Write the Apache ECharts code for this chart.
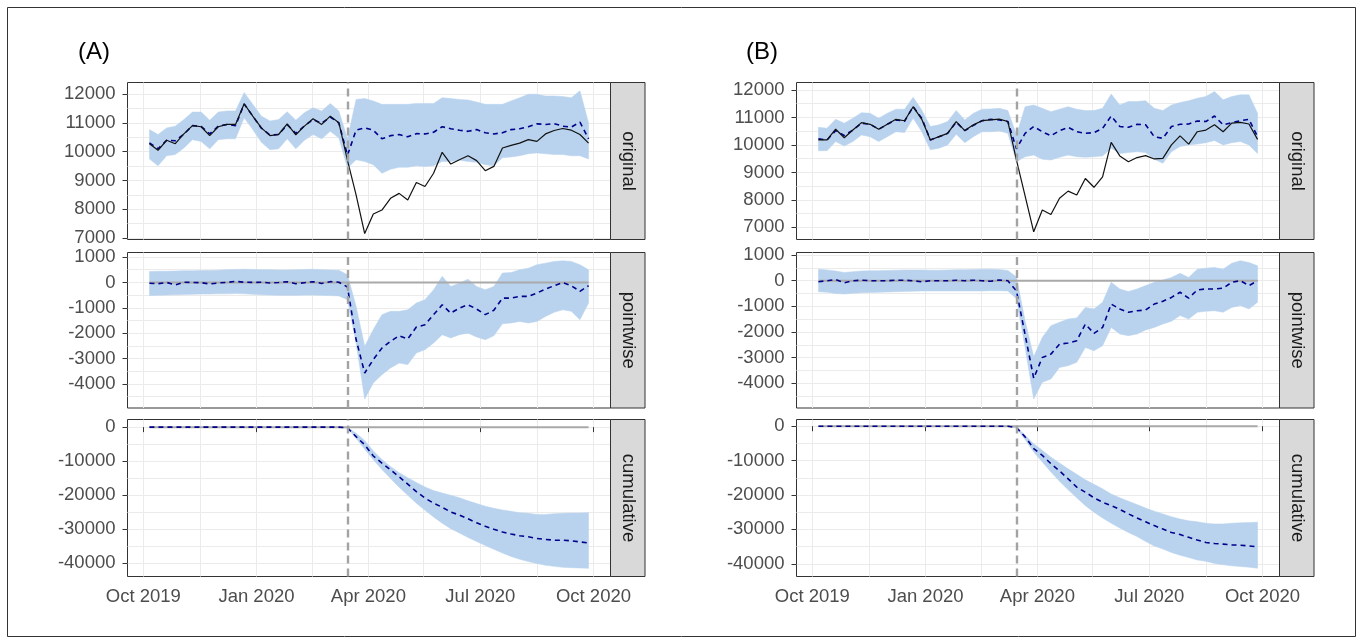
<!DOCTYPE html>
<html>
<head>
<meta charset="utf-8">
<title>Observed vs predicted weekly counts</title>
<script src="https://cdn.jsdelivr.net/npm/echarts@6/dist/echarts.min.js"></script>
<style>
html, body { margin: 0; padding: 0; background: #fff; }
#main { width: 1363px; height: 644px; }
</style>
</head>
<body>
<div id="main"></div>
<script>
// weekly dates
const weeks = [
  '2019-10-06', '2019-10-13', '2019-10-20', '2019-10-27', '2019-11-03', '2019-11-10', '2019-11-17', '2019-11-24',
  '2019-12-01', '2019-12-08', '2019-12-15', '2019-12-22', '2019-12-29', '2020-01-05', '2020-01-12', '2020-01-19',
  '2020-01-26', '2020-02-02', '2020-02-09', '2020-02-16', '2020-02-23', '2020-03-01', '2020-03-08', '2020-03-15',
  '2020-03-22', '2020-03-29', '2020-04-05', '2020-04-12', '2020-04-19', '2020-04-26', '2020-05-03', '2020-05-10',
  '2020-05-17', '2020-05-24', '2020-05-31', '2020-06-07', '2020-06-14', '2020-06-21', '2020-06-28', '2020-07-05',
  '2020-07-12', '2020-07-19', '2020-07-26', '2020-08-02', '2020-08-09', '2020-08-16', '2020-08-23', '2020-08-30',
  '2020-09-06', '2020-09-13', '2020-09-20', '2020-09-27'
]
const interventionDate = '2020-03-15'

const xMajor = ['2019-10-01', '2020-01-01', '2020-04-01', '2020-07-01', '2020-10-01']
const xMinor = ['2019-11-16', '2020-02-15', '2020-05-16', '2020-08-16']
const yMajorOriginal = [7000, 8000, 9000, 10000, 11000, 12000]
const yMinorOriginal = [7500, 8500, 9500, 10500, 11500]
const yMajorPointwise = [-4000, -3000, -2000, -1000, 0, 1000]
const yMinorPointwise = [-4500, -3500, -2500, -1500, -500, 500]
const yMajorCumulative = [-40000, -30000, -20000, -10000, 0]
const yMinorCumulative = [-35000, -25000, -15000, -5000]

// panel (A)
const actualA = [10280, 10050, 10400, 10280, 10620, 10910, 10870, 10560, 10870, 10950, 10950, 11670, 11240, 10830, 10560, 10600, 10970, 10590, 10890, 11150, 10950, 11240, 11010,
  9700, 8500, 7150, 7830, 7970, 8380, 8550, 8320, 8930, 8790, 9250, 9980, 9570, 9720, 9860, 9690, 9340, 9490, 10130, 10220, 10300, 10420, 10360, 10620, 10740, 10810, 10750, 10600, 10300]
const predA = [10310, 10100, 10400, 10380, 10610, 10910, 10880, 10620, 10890, 10950, 10910, 11660, 11240, 10820, 10580, 10600, 10940, 10640, 10900, 11120, 10990, 11210, 11000,
  9880, 10750, 10830, 10750, 10450, 10560, 10600, 10520, 10630, 10620, 10680, 10870, 10800, 10750, 10710, 10770, 10660, 10620, 10660, 10770, 10800, 10870, 10970, 10950, 10980, 10890, 10860, 11030, 10450]
const origHiA = [10770, 10600, 10830, 10890, 11120, 11380, 11380, 11100, 11380, 11420, 11420, 12060, 11650, 11240, 11070, 11120, 11390, 11100, 11360, 11530, 11420, 11680, 11420,
  10450, 11820, 11850, 11770, 11650, 11650, 11650, 11650, 11680, 11680, 11680, 11880, 11850, 11820, 11800, 11730, 11650, 11650, 11650, 11770, 11880, 12000, 12000, 11940, 11940, 11920, 11880, 12120, 11000]
const origLoA = [9750, 9510, 9860, 9900, 10130, 10420, 10360, 10100, 10420, 10450, 10450, 11180, 10770, 10330, 10070, 10100, 10450, 10100, 10400, 10600, 10450, 10710, 10480,
  9430, 9720, 9660, 9550, 9250, 9390, 9460, 9460, 9510, 9490, 9510, 9660, 9660, 9700, 9660, 9630, 9550, 9510, 9790, 9820, 9860, 9930, 9960, 9930, 9900, 9900, 9860, 9860, 9750]
const pointA = [-30, -50, 0, -100, 10, 0, -10, -60, -20, 0, 40, 10, 0, 10, -20, 0, 30, -50, -10, 30, -40, 30, 10,
  -180, -2250, -3570, -3040, -2590, -2320, -2100, -2230, -1760, -1670, -1270, -880, -1210, -1010, -880, -1050, -1270, -1100, -620, -620, -550, -550, -420, -260, -130, 0, -130, -350, -130]
const pointHiA = [430, 440, 440, 450, 460, 460, 470, 470, 480, 500, 510, 520, 510, 500, 500, 490, 490, 500, 510, 520, 500, 490, 480,
  300, -940, -2520, -1860, -1270, -1140, -1140, -1080, -810, -680, -290, 240, -160, -30, 130, -160, -290, -160, 370, 390, 500, 560, 700, 760, 830, 850, 830, 700, 500]
const pointLoA = [-520, -510, -500, -490, -480, -470, -460, -460, -450, -450, -440, -450, -470, -490, -500, -510, -510, -510, -500, -500, -510, -520, -530,
  -680, -2390, -4600, -3960, -3640, -3370, -3180, -3240, -2780, -2650, -2390, -2060, -2190, -2060, -2000, -2150, -2260, -2100, -1630, -1600, -1540, -1600, -1540, -1340, -1180, -1080, -1140, -1470, -810]
const cumA = [0, 0, 0, 0, 0, 0, 0, 0, 0, 0, 0, 0, 0, 0, 0, 0, 0, 0, 0, 0, 0, 0, 0,
  -200, -2800, -5200, -8500, -10600, -12600, -14600, -16800, -19000, -20900, -22400, -23600, -25000, -25900, -27000, -28200, -29200, -30100, -30900, -31500, -32000, -32300, -32800, -33100, -33300, -33300, -33500, -33800, -34100]
const cumHiA = [0, 0, 0, 0, 0, 0, 0, 0, 0, 0, 0, 0, 0, 0, 0, 0, 0, 0, 0, 0, 0, 0, 0,
  -100, -1800, -3900, -7000, -9500, -11600, -13400, -14900, -16300, -17600, -18700, -19400, -20100, -20800, -21700, -22500, -23300, -23900, -24400, -24800, -25200, -25400, -25700, -25700, -25500, -25400, -25300, -25300, -25200]
const cumLoA = [0, 0, 0, 0, 0, 0, 0, 0, 0, 0, 0, 0, 0, 0, 0, 0, 0, 0, 0, 0, 0, 0, 0,
  -300, -3300, -6500, -9600, -12500, -15100, -17700, -20100, -22400, -24500, -26500, -28300, -29900, -31200, -32500, -33700, -34900, -36000, -37100, -38100, -38900, -39600, -40200, -40700, -41000, -41300, -41400, -41500, -41600]

// panel (B)
const actualB = [10180, 10180, 10570, 10260, 10540, 10810, 10750, 10570, 10750, 10930, 10880, 11390, 10930, 10180, 10300, 10420, 10850, 10520, 10730, 10880, 10910, 10940, 10850,
  9450, 8150, 6840, 7630, 7470, 8060, 8320, 8180, 8780, 8460, 8840, 10090, 9600, 9390, 9540, 9610, 9490, 9510, 10000, 10330, 10030, 10480, 10540, 10730, 10480, 10790, 10820, 10760, 10200]
const predB = [10220, 10180, 10520, 10340, 10540, 10790, 10750, 10570, 10750, 10910, 10860, 11390, 10970, 10180, 10300, 10420, 10830, 10520, 10710, 10880, 10930, 10910, 10850,
  9860, 10420, 10670, 10480, 10330, 10520, 10640, 10480, 10420, 10450, 10600, 11050, 10670, 10640, 10750, 10730, 10300, 10240, 10670, 10750, 10760, 10870, 10850, 11050, 10730, 10810, 10880, 10930, 10300]
const origHiB = [10640, 10610, 10930, 10790, 10970, 11170, 11150, 10970, 11150, 11300, 11300, 11730, 11270, 10670, 10730, 10850, 11250, 10910, 11150, 11300, 11310, 11330, 11250,
  10360, 11390, 11450, 11330, 11210, 11300, 11390, 11300, 11250, 11250, 11330, 11850, 11450, 11580, 11580, 11610, 11330, 11250, 11450, 11540, 11610, 11700, 11760, 11940, 11640, 11760, 11820, 11820, 11150]
const origLoB = [9790, 9790, 10120, 9960, 10120, 10360, 10300, 10120, 10300, 10480, 10450, 10970, 10480, 9820, 9880, 10000, 10390, 10080, 10300, 10480, 10480, 10510, 10420,
  9390, 9570, 9630, 9480, 9450, 9550, 9630, 9570, 9550, 9570, 9600, 9880, 9690, 9720, 9750, 9720, 9480, 9330, 9750, 9940, 10000, 10030, 10080, 10160, 10000, 10080, 10120, 10000, 9690]
const pointB = [-40, 0, 50, -80, 0, 20, 0, 0, 0, 20, 20, 0, -40, 0, 0, 0, 20, 0, 20, 0, -20, 30, 0,
  -400, -2100, -3800, -2990, -2860, -2470, -2430, -2340, -1690, -2050, -1820, -910, -1100, -1230, -1170, -1140, -910, -800, -650, -450, -680, -360, -320, -320, -290, -60, 0, -190, 0]
const pointHiB = [450, 420, 380, 320, 350, 380, 390, 390, 400, 410, 420, 420, 420, 410, 410, 420, 430, 430, 440, 450, 450, 440, 400,
  150, -1560, -2960, -2210, -1750, -1620, -1490, -1450, -1040, -1100, -840, -60, -320, -420, -320, -190, -60, 30, 130, 290, 130, 450, 490, 520, 450, 680, 780, 710, 580]
const pointLoB = [-430, -450, -500, -520, -490, -470, -460, -450, -440, -430, -420, -410, -400, -400, -400, -400, -400, -400, -400, -400, -390, -390, -400,
  -700, -2600, -4610, -3960, -3830, -3380, -3310, -3180, -2600, -2730, -2530, -1820, -2080, -2140, -2080, -1920, -1820, -1690, -1580, -1360, -1490, -1230, -1190, -1170, -1230, -1040, -970, -1100, -840]
const cumB = [0, 0, 0, 0, 0, 0, 0, 0, 0, 0, 0, 0, 0, 0, 0, 0, 0, 0, 0, 0, 0, 0, 0,
  -400, -3100, -6500, -8500, -10900, -13000, -15300, -17700, -19200, -20800, -22100, -23100, -24200, -25500, -26700, -27800, -28900, -29900, -30900, -31500, -32300, -33100, -33800, -34100, -34300, -34500, -34600, -34800, -35100]
const cumHiB = [0, 0, 0, 0, 0, 0, 0, 0, 0, 0, 0, 0, 0, 0, 0, 0, 0, 0, 0, 0, 0, 0, 0,
  -200, -2600, -5100, -7000, -9000, -10700, -12400, -14000, -15600, -16900, -18200, -19700, -20800, -21800, -22800, -23800, -24700, -25500, -26300, -27000, -27500, -27800, -28200, -28400, -28400, -28200, -28100, -28000, -27900]
const cumLoB = [0, 0, 0, 0, 0, 0, 0, 0, 0, 0, 0, 0, 0, 0, 0, 0, 0, 0, 0, 0, 0, 0, 0,
  -600, -3900, -7500, -10400, -13300, -16000, -18500, -20800, -23100, -25000, -26700, -28200, -29600, -30900, -32100, -33500, -34800, -35700, -36700, -37500, -38200, -38900, -39300, -39900, -40300, -40600, -40800, -41000, -41300]

const months = ['Jan', 'Feb', 'Mar', 'Apr', 'May', 'Jun', 'Jul', 'Aug', 'Sep', 'Oct', 'Nov', 'Dec']
const font = "'Liberation Sans', Arial, sans-serif"
const ts = d => Date.parse(d)
const xMin = Date.UTC(2019, 8, 18, 4)
const xMax = Date.UTC(2020, 9, 14, 20)
const plotW = 483
const stripW = 34.5

const rows = [
  { top: 82.5, height: 157, major: yMajorOriginal, minor: yMinorOriginal },
  { top: 252.5, height: 155.5, major: yMajorPointwise, minor: yMinorPointwise },
  { top: 419.5, height: 157, major: yMajorCumulative, minor: yMinorCumulative }
]

const panels = [
  {
    left: 127.5, tag: '(A)', tagX: 78,
    facets: [
      { name: 'original', min: 6945, max: 12410, lo: origLoA, hi: origHiA, est: predA, obs: actualA },
      { name: 'pointwise', min: -4950, max: 1180, lo: pointLoA, hi: pointHiA, est: pointA },
      { name: 'cumulative', min: -44000, max: 2250, lo: cumLoA, hi: cumHiA, est: cumA }
    ]
  },
  {
    left: 796.5, tag: '(B)', tagX: 746,
    facets: [
      { name: 'original', min: 6560, max: 12270, lo: origLoB, hi: origHiB, est: predB, obs: actualB },
      { name: 'pointwise', min: -4960, max: 1100, lo: pointLoB, hi: pointHiB, est: pointB },
      { name: 'cumulative', min: -43700, max: 1950, lo: cumLoB, hi: cumHiB, est: cumB }
    ]
  }
]

const pairs = vals => vals.map((v, i) => [ts(weeks[i]), v])
const gridLine = { show: true, lineStyle: { color: '#EBEBEB', width: 1 } }
const labelStyle = { color: '#4D4D4D', fontSize: 18.5, fontFamily: font }

// band polygon: upper edge left to right, then lower edge back
function renderBand (params, api) {
  if (params.dataIndex !== 0) return null
  const n = params.dataInsideLength
  const pts = []
  for (let i = 0; i < n; i++) pts.push(api.coord([api.value(0, i), api.value(2, i)]))
  for (let i = n - 1; i >= 0; i--) pts.push(api.coord([api.value(0, i), api.value(1, i)]))
  return {
    type: 'polygon',
    shape: { points: pts },
    style: { fill: '#B9D3EE', stroke: '#B9D3EE', lineWidth: 0.5 }
  }
}

const grids = []
const xAxes = []
const yAxes = []
const tickX = []
const tickY = []
const series = []
const graphic = []

panels.forEach(p => {
  graphic.push({
    type: 'text', x: p.tagX, y: 52, silent: true,
    style: { text: p.tag, fill: '#000', font: '24px ' + font, verticalAlign: 'middle', textVerticalAlign: 'middle' }
  })
  p.facets.forEach((f, fi) => {
    const g = grids.length
    const row = rows[fi]
    grids.push({
      left: p.left, top: row.top, width: plotW, height: row.height,
      show: true, backgroundColor: '#fff', borderColor: '#333', borderWidth: 1,
      containLabel: false
    })
    xAxes.push({
      type: 'value', gridIndex: g, min: xMin, max: xMax,
      axisLine: { show: false },
      axisTick: { show: false, customValues: xMajor.concat(xMinor).map(ts) },
      splitLine: gridLine,
      axisLabel: Object.assign({
        show: fi === 2, margin: 11,
        customValues: xMajor.map(ts),
        formatter: v => { const d = new Date(v); return months[d.getUTCMonth()] + ' ' + d.getUTCFullYear() }
      }, labelStyle)
    })
    yAxes.push({
      type: 'value', gridIndex: g, min: f.min, max: f.max, position: 'left',
      axisLine: { show: false },
      axisTick: { show: false, customValues: row.major.concat(row.minor) },
      splitLine: gridLine,
      axisLabel: Object.assign({ margin: 12, customValues: row.major, formatter: v => String(v) }, labelStyle)
    })
    tickY.push({
      type: 'value', gridIndex: g, min: f.min, max: f.max, position: 'left', offset: 0,
      axisLine: { show: false }, splitLine: { show: false }, axisLabel: { show: false },
      axisTick: { show: true, length: 5, customValues: row.major, lineStyle: { color: '#333', width: 1 } }
    })
    if (fi === 2) {
      tickX.push({
        type: 'value', gridIndex: g, min: xMin, max: xMax, position: 'bottom', offset: 0,
        axisLine: { show: false }, splitLine: { show: false }, axisLabel: { show: false },
        axisTick: { show: true, length: 5, customValues: xMajor.map(ts), lineStyle: { color: '#333', width: 1 } }
      })
    }

    series.push({
      type: 'custom', xAxisIndex: g, yAxisIndex: g, silent: true,
      renderItem: renderBand,
      encode: { x: 0, y: [1, 2] },
      data: f.lo.map((v, i) => [ts(weeks[i]), v, f.hi[i]])
    })
    if (fi > 0) {
      series.push({
        type: 'line', xAxisIndex: g, yAxisIndex: g, symbol: 'none', silent: true,
        lineStyle: { color: '#A9A9A9', width: 2 },
        data: weeks.map(w => [ts(w), 0])
      })
    }
    series.push({
      type: 'line', xAxisIndex: g, yAxisIndex: g, symbol: 'none', silent: true,
      lineStyle: { color: '#00008B', width: 1.6, type: [5, 4] },
      data: pairs(f.est),
      markLine: {
        silent: true, symbol: ['none', 'none'], label: { show: false },
        lineStyle: { color: '#A3A3A3', width: 2.4, type: [8, 5] },
        data: [{ xAxis: ts(interventionDate) }]
      }
    })
    if (f.obs) {
      series.push({
        type: 'line', xAxisIndex: g, yAxisIndex: g, symbol: 'none', silent: true,
        lineStyle: { color: '#111', width: 1.2 },
        data: pairs(f.obs)
      })
    }

    // facet strip on the right
    graphic.push({
      type: 'rect', silent: true, z: 50,
      shape: { x: p.left + plotW, y: row.top, width: stripW, height: row.height },
      style: { fill: '#D9D9D9', stroke: '#333', lineWidth: 1 }
    })
    graphic.push({
      type: 'text', silent: true, z: 51,
      x: p.left + plotW + stripW / 2, y: row.top + row.height / 2, rotation: -Math.PI / 2,
      style: {
        text: f.name, fill: '#1A1A1A', font: '18.5px ' + font,
        align: 'center', verticalAlign: 'middle', textAlign: 'center', textVerticalAlign: 'middle'
      }
    })
  })
})

graphic.push({
  type: 'rect', silent: true, z: 60,
  shape: { x: 7.5, y: 7.5, width: 1348, height: 629 },
  style: { fill: 'none', stroke: '#333', lineWidth: 1 }
})

const chart = echarts.init(document.getElementById('main'))
chart.setOption({
  animation: false,
  backgroundColor: '#fff',
  textStyle: { fontFamily: font },
  grid: grids,
  xAxis: xAxes.concat(tickX),
  yAxis: yAxes.concat(tickY),
  series: series,
  graphic: graphic
})
</script>
</body>
</html>
